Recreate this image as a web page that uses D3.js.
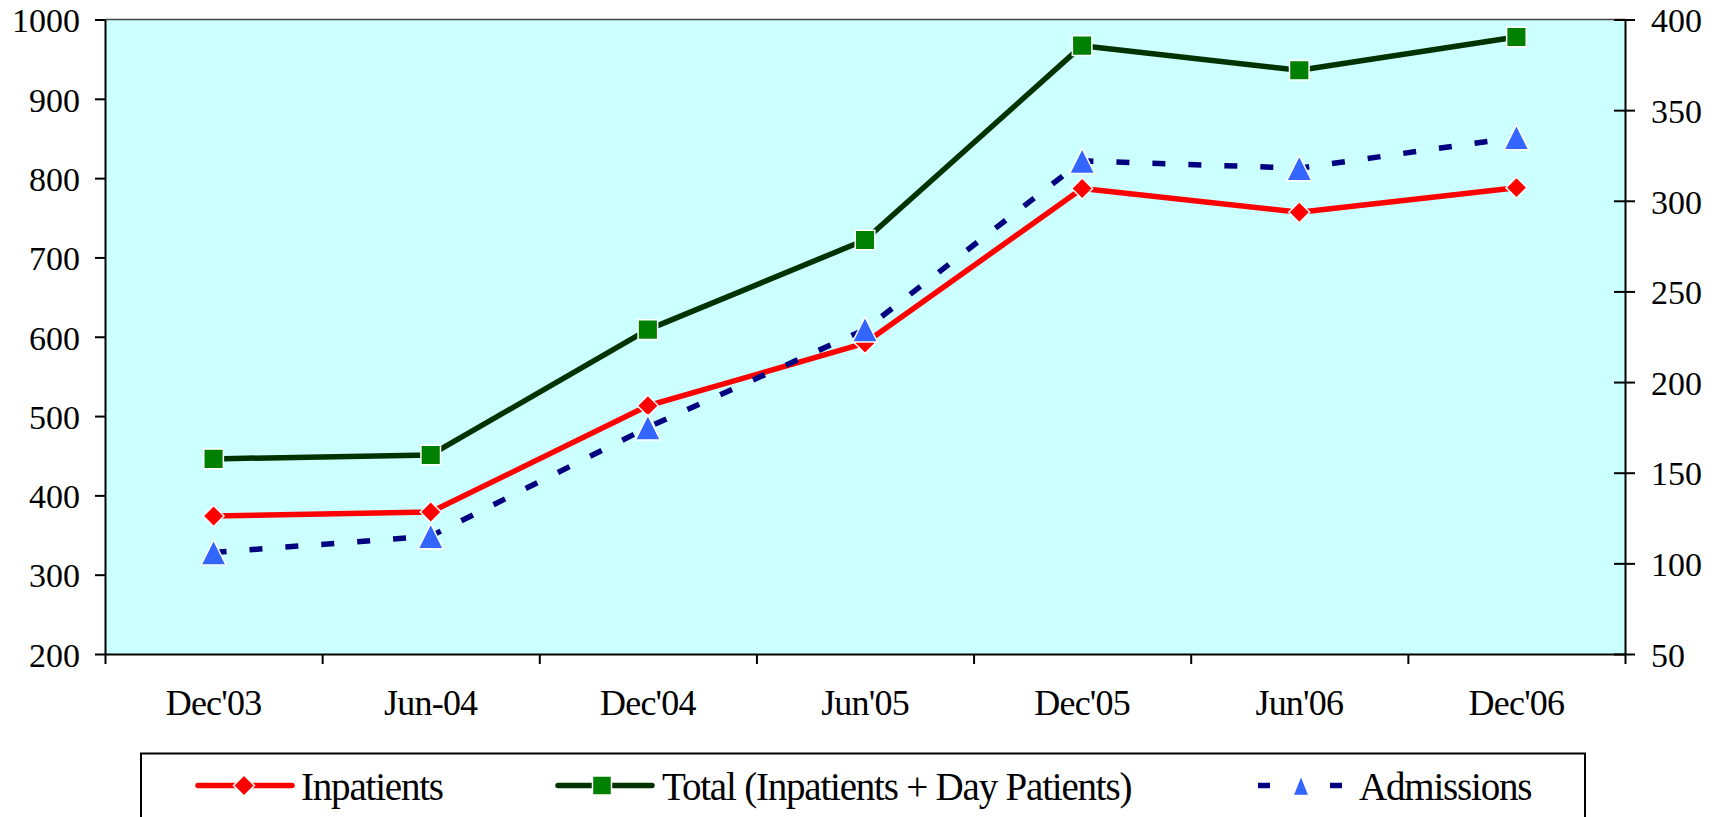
<!DOCTYPE html>
<html>
<head>
<meta charset="utf-8">
<script src="https://cdn.jsdelivr.net/npm/d3@7"></script>
<style>
  html, body { margin: 0; padding: 0; background: #ffffff; }
  svg { display: block; }
  text { font-family: "Liberation Serif", "Times New Roman", serif; fill: #000; }
</style>
</head>
<body>
<svg id="chart" width="1723" height="817"></svg>
<script>
// Half-yearly patient counts
const categories = ["Dec'03", "Jun-04", "Dec'04", "Jun'05", "Dec'05", "Jun'06", "Dec'06"];
const inpatients = [374, 379, 513, 592, 787, 757, 788];
const totalPatients = [446, 451, 609, 722, 967, 936, 978];
const admissions = [106, 115, 175, 229, 322, 318, 335];

const leftTicks = [200, 300, 400, 500, 600, 700, 800, 900, 1000];
const rightTicks = [50, 100, 150, 200, 250, 300, 350, 400];

const seriesNames = ["Inpatients", "Total (Inpatients + Day Patients)", "Admissions"];

const svg = d3.select("#chart");
const plot = { left: 105, right: 1625, top: 19.5, bottom: 654 };

const x = d3.scaleBand().domain(categories).range([plot.left, plot.right]).padding(0);
const xEdge = d3.scaleLinear().domain([0, categories.length]).range([plot.left, plot.right]);
const yLeft = d3.scaleLinear().domain([200, 1000]).range([plot.bottom, plot.top]);
const yRight = d3.scaleLinear().domain([50, 400]).range([plot.bottom, plot.top]);
const cx = (d, i) => x(categories[i]) + x.bandwidth() / 2;
const fmt = d3.format("d");

// plot background
svg.append("rect")
  .attr("x", plot.left).attr("y", plot.top)
  .attr("width", plot.right - plot.left).attr("height", plot.bottom - plot.top)
  .attr("fill", "#CCFFFF");

// top frame line
svg.append("line")
  .attr("x1", plot.left).attr("x2", plot.right)
  .attr("y1", plot.top).attr("y2", plot.top)
  .attr("stroke", "#444").attr("stroke-width", 1.5);

// left axis
const gL = svg.append("g").attr("transform", `translate(${plot.left},0)`)
  .call(d3.axisLeft(yLeft).tickValues(leftTicks).tickFormat(fmt).tickSize(10).tickSizeOuter(0).tickPadding(15));
gL.select(".domain").attr("stroke", "#000").attr("stroke-width", 2);
gL.selectAll(".tick line").attr("stroke", "#000").attr("stroke-width", 2);
gL.selectAll(".tick text").attr("font-size", 34).attr("dy", "0.36em");

// right axis with ticks crossing the axis line
const gR = svg.append("g").attr("transform", `translate(${plot.right},0)`)
  .call(d3.axisRight(yRight).tickValues(rightTicks).tickFormat(fmt).tickSize(10).tickSizeOuter(0).tickPadding(16));
gR.select(".domain").attr("stroke", "#000").attr("stroke-width", 2);
gR.selectAll(".tick line").attr("x1", -11).attr("stroke", "#000").attr("stroke-width", 2);
gR.selectAll(".tick text").attr("font-size", 34).attr("dy", "0.36em");

// bottom axis: ticks on category boundaries
const gB = svg.append("g").attr("transform", `translate(0,${plot.bottom})`)
  .call(d3.axisBottom(xEdge).ticks(categories.length).tickSize(10).tickSizeOuter(0).tickFormat(""));
gB.select(".domain").attr("stroke", "#000").attr("stroke-width", 2);
gB.selectAll(".tick line").attr("stroke", "#000").attr("stroke-width", 2);

// category labels
const gC = svg.append("g").attr("transform", `translate(0,${plot.bottom})`)
  .call(d3.axisBottom(x).tickSize(0).tickPadding(0));
gC.select(".domain").remove();
gC.selectAll(".tick text").attr("font-size", 36).attr("letter-spacing", -0.8)
  .attr("y", 61).attr("dy", 0);

// marker shapes
function diamondPath(r) { return `M0,${-r}L${r},0L0,${r}L${-r},0Z`; }
function squarePath(s) { return `M${-s},${-s}H${s}V${s}H${-s}Z`; }
function trianglePath(w, h) { return `M0,${-h}L${w},${h}L${-w},${h}Z`; }

const lineL = d3.line().x(cx).y(d => yLeft(d));
const lineR = d3.line().x(cx).y(d => yRight(d));

// primary-axis series
svg.append("path").datum(inpatients).attr("d", lineL)
  .attr("fill", "none").attr("stroke", "#FF0000").attr("stroke-width", 5.5).attr("stroke-linejoin", "round");
svg.append("path").datum(totalPatients).attr("d", lineL)
  .attr("fill", "none").attr("stroke", "#003300").attr("stroke-width", 5.5).attr("stroke-linejoin", "round");

svg.append("g").selectAll("path").data(inpatients).join("path")
  .attr("transform", (d, i) => `translate(${cx(d, i)},${yLeft(d)})`)
  .attr("d", diamondPath(10.5))
  .attr("fill", "#FF0000").attr("stroke", "#fff").attr("stroke-width", 1.5);
svg.append("g").selectAll("path").data(totalPatients).join("path")
  .attr("transform", (d, i) => `translate(${cx(d, i)},${yLeft(d)})`)
  .attr("d", squarePath(9.8))
  .attr("fill", "#008000").attr("stroke", "#fff").attr("stroke-width", 1.5);

// secondary-axis series
svg.append("path").datum(admissions).attr("d", lineR)
  .attr("fill", "none").attr("stroke", "#000080").attr("stroke-width", 5.5)
  .attr("stroke-dasharray", "13,23");
svg.append("g").selectAll("path").data(admissions).join("path")
  .attr("transform", (d, i) => `translate(${cx(d, i)},${yRight(d)})`)
  .attr("d", trianglePath(12.5, 12.5))
  .attr("fill", "#3366FF").attr("stroke", "#fff").attr("stroke-width", 1.5);

// legend
const legend = svg.append("g");
legend.append("rect")
  .attr("x", 141).attr("y", 753.5).attr("width", 1444).attr("height", 120)
  .attr("fill", "#fff").attr("stroke", "#000").attr("stroke-width", 2);

const legendItems = [
  { name: seriesNames[0], x0: 198, x1: 292, mx: 244, tx: 301, stroke: "#FF0000", dash: null,
    shape: diamondPath(10.5), fill: "#FF0000" },
  { name: seriesNames[1], x0: 558, x1: 652, mx: 602, tx: 662, stroke: "#003300", dash: null,
    shape: squarePath(9.5), fill: "#008000" },
  { name: seriesNames[2], x0: 1258, x1: 1342, mx: 1301, tx: 1359, stroke: "#000080", dash: "12,60",
    shape: trianglePath(8, 10), fill: "#3366FF" }
];
const ly = 785.5;
legendItems.forEach(it => {
  legend.append("line")
    .attr("x1", it.x0).attr("x2", it.x1).attr("y1", ly).attr("y2", ly)
    .attr("stroke", it.stroke).attr("stroke-width", 5.5)
    .attr("stroke-linecap", it.dash ? "butt" : "round")
    .attr("stroke-dasharray", it.dash);
  legend.append("path")
    .attr("transform", `translate(${it.mx},${ly})`)
    .attr("d", it.shape)
    .attr("fill", it.fill).attr("stroke", "#fff").attr("stroke-width", 1.5);
  legend.append("text")
    .attr("x", it.tx).attr("y", 800)
    .attr("font-size", 39).attr("letter-spacing", -1.2)
    .text(it.name);
});
</script>
</body>
</html>
